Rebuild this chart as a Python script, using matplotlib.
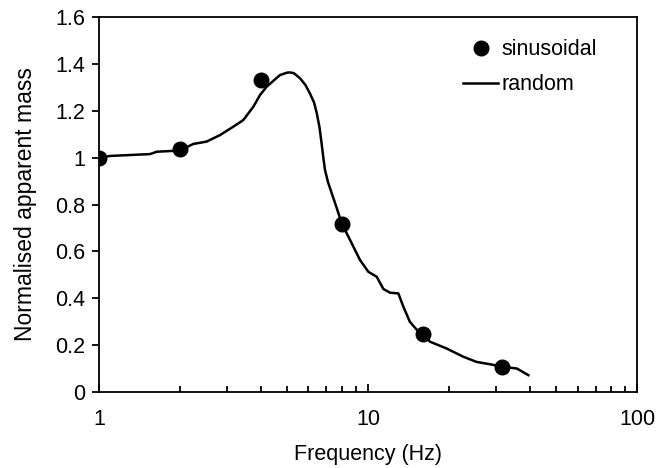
import numpy as np
import matplotlib.pyplot as plt
from matplotlib.ticker import LogLocator, NullFormatter, FixedLocator

plt.rcParams['font.family'] = ['Liberation Sans', 'DejaVu Sans']

# sinusoidal excitation points
sin_f = [1, 2, 4, 8, 16, 31.5]
sin_m = [1.0, 1.035, 1.33, 0.715, 0.246, 0.106]

# random excitation curve
rand_f = [1.0, 1.1, 1.55, 1.64, 2.0, 2.24, 2.51, 2.82, 3.16, 3.44, 3.75, 3.97,
          4.2, 4.58, 4.71, 5.0, 5.13, 5.3, 5.59, 5.85, 6.08, 6.3, 6.45, 6.6,
          6.72, 6.82, 6.92, 7.1, 7.33, 7.65, 7.98, 8.58, 9.34, 10.03, 10.77,
          11.4, 12.07, 12.96, 13.53, 14.3, 15.2, 16.0, 17.0, 19.6, 22.6, 25.3,
          28.4, 31.7, 35.7, 39.4]
rand_m = [1.0, 1.007, 1.015, 1.025, 1.03, 1.058, 1.068, 1.096, 1.132, 1.16,
          1.217, 1.267, 1.302, 1.34, 1.352, 1.362, 1.363, 1.36, 1.338, 1.31,
          1.274, 1.235, 1.189, 1.13, 1.061, 1.0, 0.947, 0.895, 0.848, 0.785,
          0.72, 0.648, 0.563, 0.513, 0.492, 0.44, 0.424, 0.421, 0.364, 0.300,
          0.265, 0.246, 0.215, 0.186, 0.151, 0.129, 0.119, 0.108, 0.101, 0.0725]

fs = 15.5

fig = plt.figure(figsize=(6.59, 4.68), dpi=100)
ax = fig.add_axes([0.150, 0.162, 0.817, 0.802])

ax.plot(sin_f, sin_m, 'o', color='black', ms=10.5, label='sinusoidal', zorder=3)
ax.plot(rand_f, rand_m, '-', color='black', lw=1.8, label='random')

ax.set_xscale('log')
ax.set_xlim(1, 100)
ax.set_ylim(0, 1.6)
ax.set_xticks([1, 10, 100])
ax.set_xticklabels(['1', '10', '100'])
ax.xaxis.set_minor_locator(LogLocator(base=10, subs=np.arange(2, 10)))
ax.xaxis.set_minor_formatter(NullFormatter())
ax.yaxis.set_major_locator(FixedLocator([0, 0.2, 0.4, 0.6, 0.8, 1.0, 1.2, 1.4, 1.6]))
ax.set_yticklabels(['0', '0.2', '0.4', '0.6', '0.8', '1', '1.2', '1.4', '1.6'])

ax.tick_params(axis='x', which='major', direction='in', length=6, width=1.3,
               pad=12, labelsize=fs)
ax.tick_params(axis='x', which='minor', direction='in', length=4, width=1.3)
ax.tick_params(axis='y', which='major', direction='out', length=5, width=1.3,
               pad=5, labelsize=fs)
ax.tick_params(top=False, right=False)
for s in ax.spines.values():
    s.set_linewidth(1.3)

ax.set_xlabel('Frequency (Hz)', fontsize=fs, labelpad=10)
ax.set_ylabel('Normalised apparent mass', fontsize=16.5, labelpad=13)

ax.legend(loc='upper left', bbox_to_anchor=(0.677, 0.94), frameon=False,
          fontsize=fs, handlelength=1.6, handletextpad=0.15,
          borderpad=0, borderaxespad=0, labelspacing=0.65)

fig.savefig('out.png', dpi=100)
